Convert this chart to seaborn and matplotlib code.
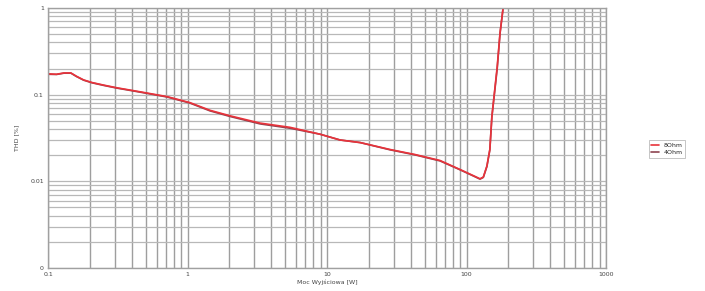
import matplotlib
matplotlib.use("Agg")
import matplotlib.pyplot as plt
import seaborn as sns
import pandas as pd
from matplotlib.ticker import FixedLocator, NullFormatter, LogLocator

# Data
power_w = [0.1, 0.115, 0.13, 0.146, 0.16, 0.18, 0.207, 0.25, 0.312, 0.456, 0.713, 1.04, 1.45, 2.02,
           3.31, 5.43, 8.9, 12.4, 17.3, 28.3, 42.7, 64.6, 89.8, 115, 125, 132, 140,
           147, 152, 166, 174, 183]
thd_8ohm = [0.174, 0.172, 0.178, 0.178, 0.163, 0.148, 0.138, 0.129, 0.120, 0.108, 0.095, 0.081, 0.066, 0.057,
            0.047, 0.042, 0.035, 0.030, 0.028, 0.0233, 0.0204, 0.0174, 0.0137, 0.0114,
            0.0107, 0.0112, 0.015, 0.0233, 0.056, 0.21, 0.52, 1.0]
thd_4ohm = [0.172, 0.171, 0.177, 0.177, 0.162, 0.147, 0.137, 0.128, 0.119, 0.107, 0.094, 0.080, 0.065, 0.056,
            0.046, 0.041, 0.035, 0.030, 0.028, 0.0231, 0.0202, 0.0172, 0.0136, 0.0113,
            0.0106, 0.0111, 0.0148, 0.0230, 0.055, 0.20, 0.51, 1.0]
series_names = ["8Ohm", "4Ohm"]
x_ticks = [0.1, 1, 10, 100, 1000]
x_tick_labels = ["0.1", "1", "10", "100", "1000"]
y_ticks = [0.001, 0.01, 0.1, 1]
y_tick_labels = ["0", "0.01", "0.1", "1"]

df = pd.concat([
    pd.DataFrame({"P": power_w, "THD": thd_4ohm, "series": series_names[1]}),
    pd.DataFrame({"P": power_w, "THD": thd_8ohm, "series": series_names[0]}),
])

sns.set_style("white")
fig = plt.figure(figsize=(7.05, 2.91), dpi=100)
ax = fig.add_axes([48/705, 1-268/291, (606-48)/705, (268-8)/291])

sns.lineplot(data=df, x="P", y="THD", hue="series", hue_order=["4Ohm", "8Ohm"],
             palette={"8Ohm": "#e8333b", "4Ohm": "#8e4450"},
             sort=False, estimator=None, lw=1.2, ax=ax)

ax.set_xscale("log")
ax.set_yscale("log")
ax.set_xlim(0.1, 1000)
ax.set_ylim(0.001, 1)

ax.xaxis.set_major_locator(FixedLocator(x_ticks))
ax.set_xticklabels(x_tick_labels)
ax.yaxis.set_major_locator(FixedLocator(y_ticks))
ax.set_yticklabels(y_tick_labels)
ax.xaxis.set_minor_locator(LogLocator(base=10, subs=range(2, 10)))
ax.yaxis.set_minor_locator(LogLocator(base=10, subs=range(2, 10)))
ax.xaxis.set_minor_formatter(NullFormatter())
ax.yaxis.set_minor_formatter(NullFormatter())

ax.xaxis.grid(True, which="both", color="#9e9e9e", lw=1.0)
ax.yaxis.grid(True, which="both", color="#b8b8b8", lw=0.9)
ax.set_axisbelow(True)
ax.tick_params(axis="both", which="major", labelsize=4.5, length=2, color="#888888",
               labelcolor="#444444", pad=1)
ax.tick_params(axis="both", which="minor", length=0)
for s in ax.spines.values():
    s.set_color("#a0a0a0")
    s.set_linewidth(1.0)

ax.set_xlabel("Moc Wyjściowa [W]", fontsize=4.5, color="#444444", labelpad=2)
ax.set_ylabel("THD [%]", fontsize=4.5, color="#444444", labelpad=8)

handles, labels = ax.get_legend_handles_labels()
order = [labels.index("8Ohm"), labels.index("4Ohm")]
leg = ax.legend([handles[i] for i in order], [labels[i] for i in order],
                loc="center", bbox_to_anchor=(667/705, 1-149/291),
                bbox_transform=fig.transFigure, fontsize=4.5, frameon=True,
                fancybox=False, edgecolor="#aaaaaa", handlelength=1.2,
                borderpad=0.4, labelspacing=0.3)
leg.get_frame().set_linewidth(0.6)

fig.savefig("out.png", dpi=100)
